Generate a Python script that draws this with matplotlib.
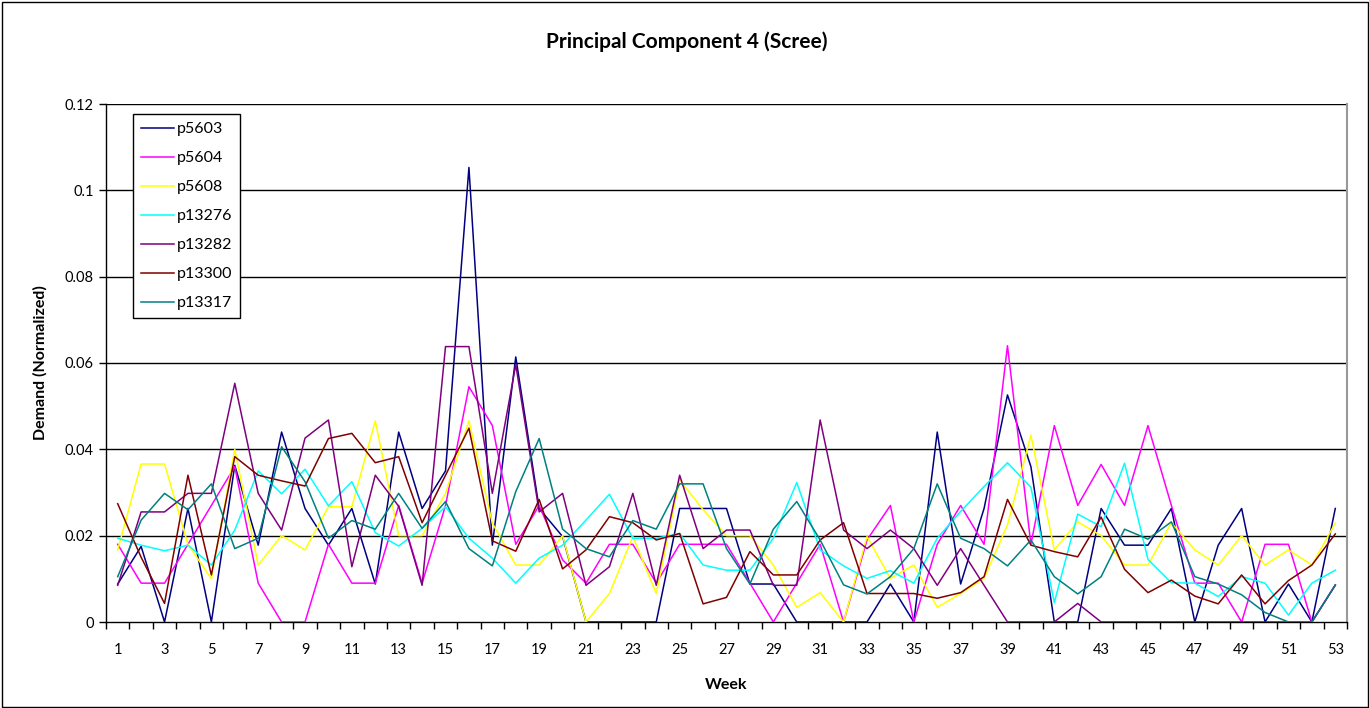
import numpy as np
import matplotlib
matplotlib.use("Agg")
import matplotlib.pyplot as plt
from matplotlib.patches import Rectangle

plt.rcParams['font.family'] = ['Lato', 'DejaVu Sans']

weeks = np.arange(1, 54)

p5603 = [0.0088, 0.0175, 0, 0.0263, 0, 0.0363, 0.0178, 0.044, 0.0263, 0.0178,
         0.0263, 0.0088, 0.044, 0.0263, 0.035, 0.1053, 0.0178, 0.0614, 0.0263, 0.0198,
         0, 0, 0, 0, 0.0263, 0.0263, 0.0263, 0.0088, 0.0088, 0,
         0, 0, 0, 0.0088, 0, 0.044, 0.0088, 0.0263, 0.0526, 0.036,
         0, 0, 0.0263, 0.0178, 0.0178, 0.0263, 0, 0.0178, 0.0263, 0,
         0.0088, 0, 0.0263]
p5604 = [0.018, 0.009, 0.009, 0.018, 0.027, 0.036, 0.009, 0, 0, 0.018,
         0.009, 0.009, 0.027, 0.009, 0.027, 0.0545, 0.0455, 0.018, 0.027, 0.0144,
         0.009, 0.018, 0.018, 0.009, 0.018, 0.018, 0.018, 0.009, 0, 0.009,
         0.018, 0, 0.019, 0.027, 0, 0.018, 0.027, 0.018, 0.064, 0.018,
         0.0455, 0.027, 0.0365, 0.027, 0.0455, 0.027, 0.009, 0.009, 0, 0.018,
         0.018, 0, 0.0086]
p5608 = [0.0167, 0.0366, 0.0366, 0.018, 0.010, 0.040, 0.0132, 0.020, 0.0167, 0.0267,
         0.0267, 0.0466, 0.020, 0.020, 0.0298, 0.0466, 0.0229, 0.0132, 0.0132, 0.020,
         0, 0.0066, 0.0198, 0.0066, 0.0329, 0.026, 0.020, 0.020, 0.0132, 0.0034,
         0.0068, 0, 0.0198, 0.0101, 0.0132, 0.0034, 0.0066, 0.0101, 0.0225, 0.0433,
         0.0167, 0.0232, 0.020, 0.0132, 0.0132, 0.023, 0.0167, 0.0132, 0.020, 0.0132,
         0.0167, 0.0132, 0.0229]
p13276 = [0.0194, 0.0178, 0.0165, 0.0178, 0.0132, 0.0213, 0.035, 0.0297, 0.0354, 0.0269,
          0.0325, 0.0207, 0.0176, 0.0217, 0.0267, 0.0194, 0.0148, 0.009, 0.0148, 0.0178,
          0.0236, 0.0296, 0.0194, 0.0194, 0.0205, 0.0132, 0.012, 0.012, 0.0194, 0.0323,
          0.0167, 0.013, 0.0101, 0.0119, 0.009, 0.0194, 0.0256, 0.0314, 0.0369, 0.0312,
          0.0045, 0.025, 0.0221, 0.0368, 0.0145, 0.0091, 0.009, 0.0059, 0.0105, 0.009,
          0.0016, 0.009, 0.012]
p13282 = [0.0085, 0.0255, 0.0255, 0.0298, 0.0298, 0.0553, 0.0298, 0.0213, 0.0426, 0.0468,
          0.0128, 0.034, 0.0268, 0.0085, 0.0638, 0.0638, 0.0298, 0.0596, 0.0255, 0.0298,
          0.0085, 0.0128, 0.0298, 0.0085, 0.034, 0.017, 0.0213, 0.0213, 0.0085, 0.0085,
          0.0468, 0.0213, 0.017, 0.0213, 0.017, 0.0085, 0.017, 0.0085, 0, 0,
          0, 0.0043, 0, 0, 0, 0, 0, 0, 0, 0,
          0, 0, 0.0085]
p13300 = [0.0274, 0.015, 0.0043, 0.034, 0.0109, 0.0383, 0.034, 0.0327, 0.0315, 0.0425,
          0.0437, 0.0369, 0.0383, 0.023, 0.034, 0.0449, 0.0188, 0.0164, 0.0284, 0.0123,
          0.0167, 0.0244, 0.023, 0.019, 0.0205, 0.0042, 0.0057, 0.0163, 0.0109, 0.0109,
          0.019, 0.023, 0.0066, 0.0066, 0.0066, 0.0055, 0.0068, 0.0105, 0.0284, 0.0178,
          0.0163, 0.0151, 0.0243, 0.0122, 0.0068, 0.0097, 0.006, 0.0042, 0.0109, 0.0042,
          0.0096, 0.0132, 0.0204]
p13317 = [0.0105, 0.0236, 0.0298, 0.026, 0.032, 0.017, 0.0194, 0.0406, 0.0325, 0.0194,
          0.0235, 0.0215, 0.0298, 0.0217, 0.0279, 0.017, 0.013, 0.0302, 0.0425, 0.0215,
          0.017, 0.0151, 0.0235, 0.0215, 0.032, 0.032, 0.017, 0.0088, 0.0215, 0.0279,
          0.019, 0.0086, 0.0065, 0.0105, 0.017, 0.032, 0.0194, 0.017, 0.013, 0.019,
          0.0105, 0.0065, 0.0105, 0.0215, 0.0192, 0.0232, 0.0105, 0.0088, 0.0063, 0.0022,
          0, 0, 0.0086]

series = [('p5603', p5603, '#000080'),
          ('p5604', p5604, '#FF00FF'),
          ('p5608', p5608, '#FFFF00'),
          ('p13276', p13276, '#00FFFF'),
          ('p13282', p13282, '#800080'),
          ('p13300', p13300, '#800000'),
          ('p13317', p13317, '#008080')]

W, H = 1369, 708
fig = plt.figure(figsize=(W / 100, H / 100), dpi=100)
fig.patches.append(Rectangle((1.5 / W, 1.5 / H), 1 - 3 / W, 1 - 3 / H,
                             transform=fig.transFigure, fill=False,
                             edgecolor='black', linewidth=1.0))

ax = fig.add_axes([106 / W, 1 - 622 / H, (1347 - 106) / W, (622 - 104) / H])

for name, vals, col in series:
    ax.plot(weeks, vals, color=col, lw=1.1, label=name, zorder=3)

ax.set_xlim(0.5, 53.5)
ax.set_ylim(0, 0.12)

# horizontal gridlines
yt = np.arange(0, 0.1201, 0.02)
for y in yt[1:]:
    ax.axhline(y, color='black', lw=1.0, zorder=1)
ax.set_yticks(yt)
ax.set_yticklabels(['0', '0.02', '0.04', '0.06', '0.08', '0.1', '0.12'])

# tick marks between categories, labels on every other week
ax.set_xticks(np.arange(0.5, 54, 1))
ax.set_xticklabels([])
ax.set_xticks(weeks[::2], minor=True)
ax.set_xticklabels([str(w) for w in weeks[::2]], minor=True)
ax.tick_params(axis='x', which='major', direction='out', length=5, width=1, color='black')
ax.tick_params(axis='x', which='minor', length=0, pad=15, labelsize=10.5)
ax.tick_params(axis='y', direction='out', length=5, width=1, labelsize=10.5, pad=4)

for s in ['left', 'bottom']:
    ax.spines[s].set_color('black')
    ax.spines[s].set_linewidth(1.0)
ax.spines['top'].set_visible(False)
ax.spines['right'].set_color('#999999')
ax.spines['right'].set_linewidth(1.5)

ax.set_xlabel('Week', fontsize=11.5, fontweight='bold', labelpad=15)
ax.set_ylabel('Demand (Normalized)', fontsize=11.5, fontweight='bold', labelpad=12)
fig.text(687 / W, 1 - 42 / H, 'Principal Component 4 (Scree)', ha='center', va='center',
         fontsize=15, fontweight='bold')

leg = ax.legend(loc='upper left', bbox_to_anchor=(133 / W, 1 - 114 / H),
                bbox_transform=fig.transFigure, fontsize=11.5, frameon=True,
                fancybox=False, edgecolor='black', framealpha=1,
                handlelength=2.05, handletextpad=0.2, labelspacing=0.93,
                borderpad=0.5, borderaxespad=0)
leg.get_frame().set_linewidth(1.0)
leg.set_zorder(5)

fig.savefig('out.png', dpi=100)
